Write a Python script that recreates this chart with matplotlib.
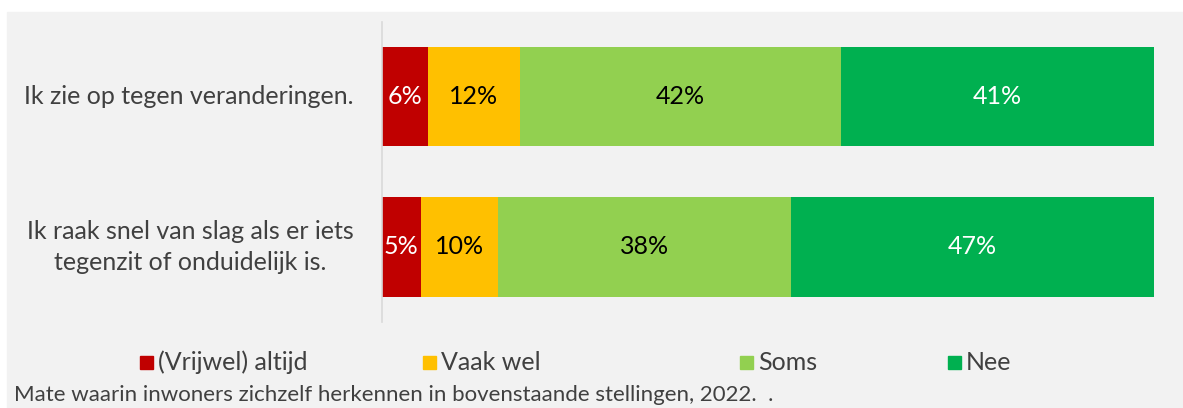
import matplotlib.pyplot as plt
import matplotlib.patches as mpatches
import numpy as np

plt.rcParams['font.family'] = ['Lato', 'DejaVu Sans']

stellingen = ["Ik zie op tegen veranderingen.",
              "Ik raak snel van slag als er iets\ntegenzit of onduidelijk is."]
categorieen = ["(Vrijwel) altijd", "Vaak wel", "Soms", "Nee"]
altijd = [6, 5]
vaak_wel = [12, 10]
soms = [42, 38]
nee = [41, 47]

kleuren = ["#C00000", "#FFC000", "#92D050", "#00B050"]
tekstkleur = ["white", "black", "black", "white"]

reeksen = np.array([altijd, vaak_wel, soms, nee], dtype=float)
# 100% gestapeld, zoals in Excel
aandeel = reeksen / reeksen.sum(axis=0) * 100

fig = plt.figure(figsize=(11.83, 4.08), dpi=100, facecolor="white")
fig.patches.append(mpatches.Rectangle((7 / 1183, 0), 1, 1 - 12 / 408,
                                      transform=fig.transFigure, color="#F2F2F2", zorder=-10))

ax = fig.add_axes([382 / 1183, 1 - 322 / 408, (1154 - 382) / 1183, 300 / 408])
ax.set_facecolor("none")

y = np.arange(len(stellingen))
links = np.zeros(len(stellingen))
for i, cat in enumerate(categorieen):
    bars = ax.barh(y, aandeel[i], left=links, height=0.66, color=kleuren[i], label=cat)
    for j, b in enumerate(bars):
        ax.text(b.get_x() + b.get_width() / 2, b.get_y() + b.get_height() / 2,
                f"{int(reeksen[i, j])}%", ha="center", va="center",
                color=tekstkleur[i], fontsize=18)
    links += aandeel[i]

ax.set_xlim(0, 100)
ax.set_ylim(1.5, -0.5)
ax.set_xticks([])
ax.set_yticks([])
for s in ["top", "right", "bottom"]:
    ax.spines[s].set_visible(False)
ax.spines["left"].set_color("#D9D9D9")
ax.spines["left"].set_linewidth(1.2)

for j, s in enumerate(stellingen):
    ax.text(-28 / 772, 1 - (j + 0.5) / 2, s, transform=ax.transAxes, ha="right", va="center",
            multialignment="center", fontsize=18, color="#404040", linespacing=1.4)

# legenda handmatig, zoals Excel hem verdeelt
leg_x = [140, 423, 740, 948]
for xpix, cat, kl in zip(leg_x, categorieen, kleuren):
    fig.patches.append(mpatches.Rectangle((xpix / 1183, 1 - 369 / 408), 13 / 1183, 13 / 408,
                                          transform=fig.transFigure, color=kl))
    fig.text((xpix + 18) / 1183, 1 - 362 / 408, cat, ha="left", va="center",
             fontsize=18, color="#404040")

fig.text(14 / 1183, 1 - 395 / 408,
         "Mate waarin inwoners zichzelf herkennen in bovenstaande stellingen, 2022.  .",
         ha="left", va="center", fontsize=16, color="#404040")

fig.savefig("out.png", dpi=100, facecolor=fig.get_facecolor())
